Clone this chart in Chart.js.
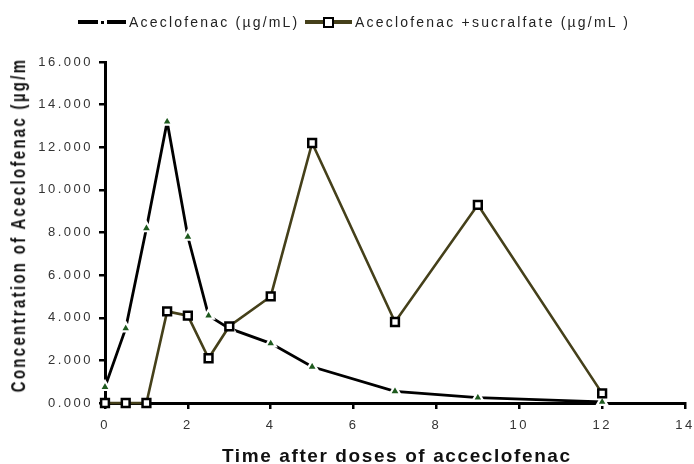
<!DOCTYPE html>
<html>
<head>
<meta charset="utf-8">
<script src="https://cdn.jsdelivr.net/npm/chart.js@4/dist/chart.umd.min.js"></script>
<style>
  html, body { margin:0; padding:0; background:#fff; }
  #wrap { position:relative; width:694px; height:464px; overflow:hidden; }
  #c { position:absolute; left:0; top:0; }
  .txt { position:absolute; white-space:nowrap; font-family:"Liberation Sans", Arial, sans-serif; color:#111; }
  .leg { font-size:14px; line-height:14px; letter-spacing:2.2px; top:15px; color:#222; }
  .bar { position:absolute; height:4px; }
</style>
</head>
<body>
<div id="wrap">
  <canvas id="c" width="694" height="464"></canvas>
  <!-- legend -->
  <div class="bar" style="left:78px; top:20px; width:20px; background:#000;"></div>
  <div class="bar" style="left:101px; top:21px; width:3px; height:3px; background:#000;"></div>
  <div class="bar" style="left:107px; top:20px; width:19px; background:#000;"></div>
  <div class="txt leg" id="leg1" style="left:129px;"></div>
  <div class="bar" style="left:305px; top:20px; width:47px; background:#45401a;"></div>
  <div class="bar" style="left:323px; top:16.5px; width:11px; height:11px; box-sizing:border-box; background:#fff; border:2.5px solid #000;"></div>
  <div class="txt leg" id="leg2" style="left:355px;"></div>
  <!-- axis titles -->
  <div class="txt" id="xtitle" style="left:222px; top:446px; font-size:19px; line-height:19px; font-weight:bold; letter-spacing:1.6px;"></div>
  <div class="txt" id="ytitle" style="left:17px; top:225px; font-size:15px; line-height:15px; font-weight:bold; letter-spacing:2.3px; transform:translate(-50%,-50%) rotate(-90deg) scaleY(1.4);"></div>
</div>
<script>
// ---- data ----
const times = [0, 0.5, 1, 1.5, 2, 2.5, 3, 4, 5, 7, 9, 12];
const aceclofenac = [0.75, 3.5, 8.2, 13.2, 7.8, 4.1, 3.5, 2.8, 1.7, 0.55, 0.25, 0.05];
const aceclofenacSucralfate = [0, 0, 0, 4.3, 4.1, 2.1, 3.6, 5.0, 12.2, 3.8, 9.3, 0.45];
const seriesNames = ['Aceclofenac (µg/mL)', 'Aceclofenac +sucralfate (µg/mL )'];
const xTickValues = [0, 2, 4, 6, 8, 10, 12, 14];
const xTickLabels = ['0', '2', '4', '6', '8', '10', '12', '14'];
const yTickValues = [0, 2, 4, 6, 8, 10, 12, 14, 16];
const yTickLabels = ['0.000', '2.000', '4.000', '6.000', '8.000', '10.000', '12.000', '14.000', '16.000'];
const xTitle = 'Time after doses of acceclofenac';
const yTitle = 'Concentration of Aceclofenac (µg/m';

document.getElementById('leg1').textContent = seriesNames[0];
document.getElementById('leg2').textContent = seriesNames[1];
document.getElementById('xtitle').textContent = xTitle;
document.getElementById('ytitle').textContent = yTitle;

const toPoints = (vals) => times.map((t, i) => ({ x: t, y: vals[i] }));

const spacingPlugin = {
  id: 'spacing',
  beforeLayout(c) { c.ctx.letterSpacing = '2.5px'; },
  beforeDraw(c) { c.ctx.letterSpacing = '2.5px'; }
};

const tickFont = { family: '"Liberation Sans", Arial, sans-serif', size: 13 };
const gridOpts = { display: true, drawOnChartArea: false, drawTicks: true, tickLength: 6, color: '#000', lineWidth: 2.5 };
const borderOpts = { display: true, color: '#000', width: 3 };

new Chart(document.getElementById('c').getContext('2d'), {
  type: 'line',
  data: {
    datasets: [
      {
        label: seriesNames[1],
        data: toPoints(aceclofenacSucralfate),
        borderColor: '#45401a',
        borderWidth: 2.6,
        pointStyle: 'rect',
        pointRadius: 5.5,
        pointBackgroundColor: '#fff',
        pointBorderColor: '#000',
        pointBorderWidth: 2.5,
        tension: 0,
        clip: false,
        order: 0
      },
      {
        label: seriesNames[0],
        data: toPoints(aceclofenac),
        borderColor: '#000',
        borderWidth: 2.8,
        pointStyle: 'triangle',
        pointRadius: 6,
        pointBackgroundColor: '#1e5a1e',
        pointBorderColor: '#fff',
        pointBorderWidth: 2.2,
        tension: 0,
        clip: false,
        order: 1
      }
    ]
  },
  options: {
    responsive: false,
    animation: false,
    devicePixelRatio: 1,
    layout: { padding: { top: 62, right: 9, left: 0, bottom: 0 } },
    plugins: { legend: { display: false }, tooltip: { enabled: false } },
    scales: {
      x: {
        type: 'linear', min: 0, max: 14,
        afterBuildTicks: (s) => { s.ticks = xTickValues.map(v => ({ value: v })); },
        afterFit: (s) => { s.height = 61; s.paddingLeft = 0; s.paddingRight = 0; },
        ticks: { font: tickFont, color: '#333', padding: 9, maxRotation: 0,
                 callback: (v, i) => xTickLabels[i] },
        grid: gridOpts,
        border: borderOpts
      },
      y: {
        type: 'linear', min: 0, max: 16,
        afterBuildTicks: (s) => { s.ticks = yTickValues.map(v => ({ value: v })); },
        afterFit: (s) => { s.width = 105; s.paddingTop = 0; s.paddingBottom = 0; },
        ticks: { font: tickFont, color: '#333', padding: 6,
                 callback: (v, i) => yTickLabels[i] },
        grid: gridOpts,
        border: borderOpts
      }
    }
  },
  plugins: [spacingPlugin]
});
</script>
</body>
</html>
